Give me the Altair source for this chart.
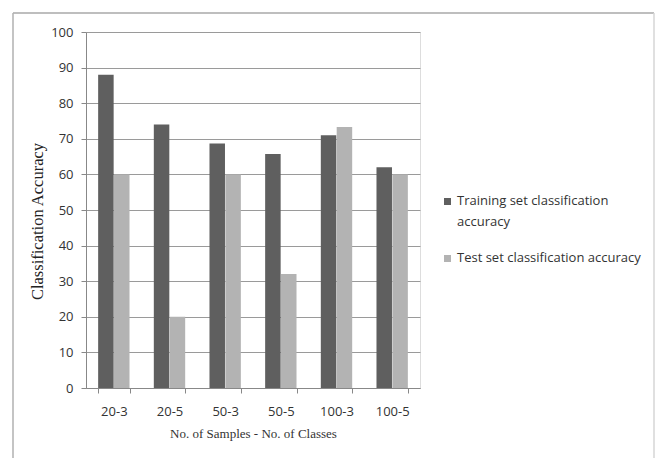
import altair as alt
import pandas as pd

# Classification accuracy per experiment configuration
configs = ["20-3", "20-5", "50-3", "50-5", "100-3", "100-5"]
train_acc = [88, 74, 68.7, 65.7, 71, 62]
test_acc = [60, 20, 60, 32, 73.3, 60]
series = ["Training set classification accuracy", "Test set classification accuracy"]
y_ticks = [0, 10, 20, 30, 40, 50, 60, 70, 80, 90, 100]

rows = []
for c, tr, te in zip(configs, train_acc, test_acc):
    rows.append({"config": c, "series": series[0], "acc": tr})
    rows.append({"config": c, "series": series[1], "acc": te})
df = pd.DataFrame(rows)

PLOT_W, PLOT_H = 334, 356
LEFT, TOP = 86, 32
LABEL_DY = -6.5  # lifts wrapped legend labels so the first line sits on the swatch

label_font = "Open Sans"
title_font = "Liberation Serif"

bars = alt.Chart(df).mark_bar(size=15.5).encode(
    x=alt.X(
        "config:N",
        sort=configs,
        scale=alt.Scale(paddingInner=0.43, paddingOuter=0.215),
        axis=alt.Axis(
            title="No. of Samples - No. of Classes",
            titleFont=title_font,
            titleFontSize=13,
            titleFontWeight="normal",
            titleColor="#333333",
            titlePadding=9,
            labelAngle=0,
            labelFont=label_font,
            labelFontSize=13,
            labelColor="#333333",
            labelPadding=12 - LABEL_DY,
            tickBand="extent",
            tickSize=5,
            tickColor="#888888",
            domainColor="#888888",
            grid=False,
        ),
    ),
    xOffset=alt.XOffset("series:N", sort=series, scale=alt.Scale(paddingInner=0, paddingOuter=0)),
    y=alt.Y(
        "acc:Q",
        scale=alt.Scale(domain=[0, 100], nice=False),
        axis=alt.Axis(
            title="Classification Accuracy",
            titleFont=title_font,
            titleFontSize=16.5,
            titleFontWeight="normal",
            titleColor="#222222",
            titlePadding=5,
            titleY=189,
            values=y_ticks,
            labelFont=label_font,
            labelFontSize=13,
            labelColor="#333333",
            labelPadding=8,
            labelOffset=-LABEL_DY,
            tickSize=5,
            tickColor="#888888",
            domainColor="#888888",
            gridColor="#9a9a9a",
            gridWidth=1,
        ),
    ),
    color=alt.Color(
        "series:N",
        sort=series,
        scale=alt.Scale(domain=series, range=["#5f5f5f", "#b3b3b3"]),
        legend=alt.Legend(
            title=None,
            orient="none",
            legendX=355,
            legendY=163,
            symbolType="square",
            symbolSize=49,
            symbolStrokeWidth=0,
            labelFont=label_font,
            labelFontSize=13,
            labelColor="#333333",
            labelOffset=3,
            labelBaseline="top",
            rowPadding=23,
            padding=0,
            labelLimit=300,
            labelExpr="datum.label == 'Training set classification accuracy' ? ['Training set classification', 'accuracy'] : datum.label",
        ),
    ),
)

# Outer frame around the whole figure
frame_data = alt.Data(values=[{}])
frame_top = alt.Chart(frame_data).mark_rule(color="#a8a8a8", strokeWidth=1.5).encode(
    x=alt.value(13 - LEFT), x2=alt.value(654 - LEFT), y=alt.value(13 - TOP)
)
frame_left = alt.Chart(frame_data).mark_rule(color="#b0b0b0", strokeWidth=1.5).encode(
    x=alt.value(13 - LEFT), y=alt.value(13 - TOP), y2=alt.value(458 - TOP)
)
frame_right = alt.Chart(frame_data).mark_rule(color="#d6d6d6", strokeWidth=1.5).encode(
    x=alt.value(654 - LEFT), y=alt.value(13 - TOP), y2=alt.value(458 - TOP)
)

chart = alt.layer(frame_top, frame_left, frame_right, bars).properties(
    width=PLOT_W,
    height=PLOT_H,
    autosize=alt.AutoSizeParams(type="none"),
    padding={"left": LEFT, "top": TOP, "right": 657 - LEFT - PLOT_W, "bottom": 458 - TOP - PLOT_H},
    background="white",
).configure_view(stroke=None).configure(
    style={"guide-label": {"lineHeight": 21, "dy": LABEL_DY}}
)

chart.save("out.html", embed_options={"renderer": "svg", "actions": False})
